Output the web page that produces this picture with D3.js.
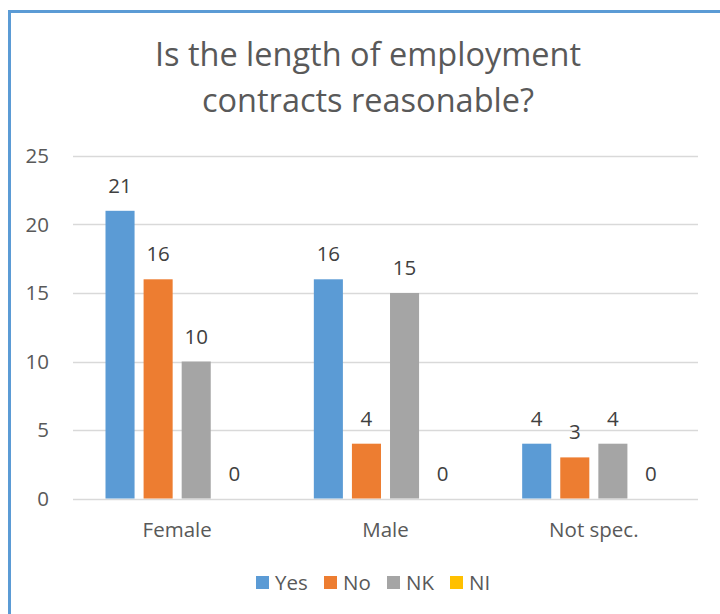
<!DOCTYPE html>
<html>
<head>
<meta charset="utf-8">
<style>
    body { margin: 0; background: #fff; }
    text { font-family: "Open Sans", sans-serif; fill: #595959; }
</style>
</head>
<body>
<svg width="720" height="614"></svg>
<script src="https://cdnjs.cloudflare.com/ajax/libs/d3/7.8.5/d3.min.js"></script>
<script>

    var categories = ["Female", "Male", "Not spec."];
    var seriesNames = ["Yes", "No", "NK", "NI"];
    var yesValues = [21, 16, 4];
    var noValues = [16, 4, 3];
    var nkValues = [10, 15, 4];
    var niValues = [0, 0, 0];
    var yTicks = [0, 5, 10, 15, 20, 25];
    var colors = ["#5b9bd5", "#ed7d31", "#a5a5a5", "#ffc000"];
    var titleLines = ["Is the length of employment", "contracts reasonable?"];

    var seriesValues = [yesValues, noValues, nkValues, niValues];

    var svg = d3.select("svg"),
        margin = {top: 156, right: 22, bottom: 116, left: 73},
        width = +svg.attr("width") - margin.left - margin.right,
        height = +svg.attr("height") - margin.top - margin.bottom;

    // chart frame (runs off the right and bottom edges)
    svg.append("rect")
        .attr("x", 9.5).attr("y", 11.5)
        .attr("width", 800).attr("height", 700)
        .attr("fill", "#fff")
        .attr("stroke", "#5b9bd5")
        .attr("stroke-width", 3);

    svg.append("text")
        .attr("text-anchor", "middle")
        .style("font-size", "32.5px")
        .selectAll("tspan")
        .data(titleLines)
        .enter().append("tspan")
        .attr("x", 368)
        .attr("y", function(d, i) { return 66 + i * 46; })
        .text(function(d) { return d; });

    var g = svg.append("g").attr("transform", "translate(" + margin.left + "," + margin.top + ")");

    var y = d3.scaleLinear().domain([0, 25]).range([height + 0.5, 0]);

    var x0 = d3.scaleBand().domain(categories).range([0, width]).padding(0);
    var gap = 65;
    var x1 = d3.scaleBand().domain(seriesNames)
        .range([gap / 2, x0.bandwidth() - gap / 2])
        .paddingInner(0.237).paddingOuter(0);

    // gridlines
    g.append("g")
        .selectAll("line")
        .data(yTicks)
        .enter().append("line")
        .attr("x1", 0).attr("x2", width)
        .attr("y1", function(d) { return Math.round(y(d)) + 0.5; })
        .attr("y2", function(d) { return Math.round(y(d)) + 0.5; })
        .attr("stroke", "#d9d9d9")
        .attr("stroke-width", 1.5);

    // y axis labels
    g.append("g")
        .selectAll("text")
        .data(yTicks)
        .enter().append("text")
        .attr("x", -24)
        .attr("y", function(d) { return y(d); })
        .attr("dy", "0.36em")
        .attr("text-anchor", "end")
        .style("font-size", "20.5px")
        .text(function(d) { return d; });

    var groups = g.append("g")
        .selectAll("g")
        .data(seriesNames)
        .enter().append("g")
        .attr("fill", function(d, i) { return colors[i]; });

    groups.selectAll("rect")
        .data(function(s, i) {
            return categories.map(function(c, j) { return {cat: c, s: s, v: seriesValues[i][j]}; });
        })
        .enter().append("rect")
        .attr("x", function(d) { return x0(d.cat) + x1(d.s); })
        .attr("width", x1.bandwidth())
        .attr("y", function(d) { return y(d.v); })
        .attr("height", function(d) { return y(0) - y(d.v); });

    // value labels
    groups.selectAll("text")
        .data(function(s, i) {
            return categories.map(function(c, j) { return {cat: c, s: s, v: seriesValues[i][j]}; });
        })
        .enter().append("text")
        .attr("x", function(d) { return x0(d.cat) + x1(d.s) + x1.bandwidth() / 2; })
        .attr("y", function(d) { return y(d.v) - 18; })
        .attr("text-anchor", "middle")
        .style("font-size", "20.5px")
        .style("fill", "#404040")
        .text(function(d) { return d.v; });

    // category labels
    g.append("g")
        .selectAll("text")
        .data(categories)
        .enter().append("text")
        .attr("x", function(d) { return x0(d) + x0.bandwidth() / 2; })
        .attr("y", height + 39)
        .attr("text-anchor", "middle")
        .style("font-size", "20.5px")
        .text(function(d) { return d; });

    // legend
    var legendX = [256, 324, 387, 450];
    var legend = svg.append("g")
        .selectAll("g")
        .data(seriesNames)
        .enter().append("g")
        .attr("transform", function(d, i) { return "translate(" + legendX[i] + ",576)"; });

    legend.append("rect")
        .attr("width", 13).attr("height", 13)
        .attr("fill", function(d, i) { return colors[i]; });

    legend.append("text")
        .attr("x", 19)
        .attr("y", 13.5)
        .style("font-size", "20.5px")
        .text(function(d) { return d; });

</script>
</body>
</html>
